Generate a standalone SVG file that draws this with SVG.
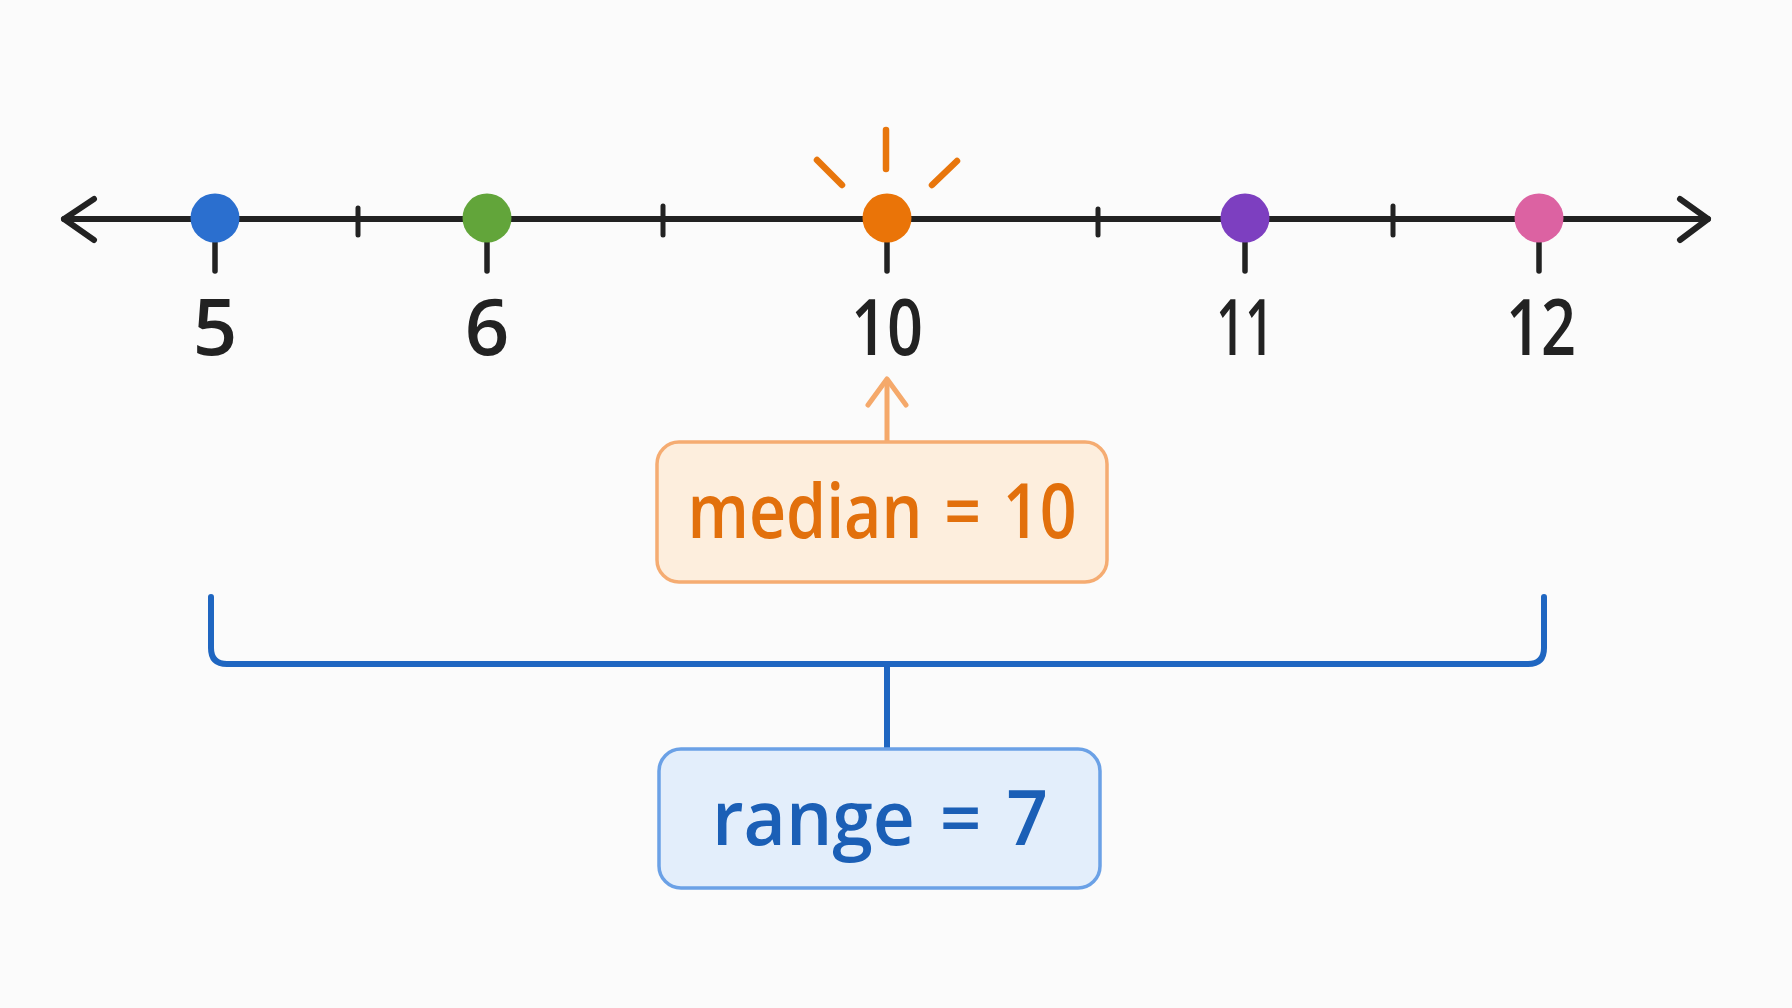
<svg xmlns="http://www.w3.org/2000/svg" width="1792" height="1008" viewBox="0 0 1792 1008">
  <style>
    .axis { stroke: #222; stroke-width: 6; stroke-linecap: round; stroke-linejoin: round; fill: none; }
    .tick { stroke: #222; stroke-width: 5; stroke-linecap: round; }
    .stem { stroke: #222; stroke-width: 5.5; stroke-linecap: round; }
    .num { font-family: "Open Sans", "Noto Sans", sans-serif; font-weight: 600; font-size: 78px; fill: #222; text-anchor: middle; }
    .ray { stroke: #e8760c; stroke-width: 6.5; stroke-linecap: round; }
    .lbl { font-family: "Open Sans", "Noto Sans", sans-serif; font-weight: 600; font-size: 76px; text-anchor: middle; word-spacing: 6px; }
    .bracket { stroke: #1f66c1; stroke-width: 6; fill: none; stroke-linecap: round; stroke-linejoin: round; }
  </style>
  <rect width="1792" height="1008" fill="#fbfbfb"/>

  <g id="number-line">
    <line class="axis" x1="64" y1="219" x2="1708" y2="219"/>
    <polyline class="axis" points="94,199 64,219 94,240"/>
    <polyline class="axis" points="1680,199 1708,219 1680,240"/>
    <line class="tick" x1="358" y1="208" x2="358" y2="235"/>
    <line class="tick" x1="663" y1="206" x2="663" y2="235"/>
    <line class="tick" x1="1098" y1="209" x2="1098" y2="235"/>
    <line class="tick" x1="1393" y1="206" x2="1393" y2="235"/>
  </g>

  <g id="point-5">
    <line class="stem" x1="215" y1="220" x2="215" y2="271"/>
    <circle cx="215" cy="218" r="24.5" fill="#2b6fcf"/>
    <text class="num" x="215" y="355">5</text>
  </g>
  <g id="point-6">
    <line class="stem" x1="487" y1="220" x2="487" y2="271"/>
    <circle cx="487" cy="218" r="24.5" fill="#62a53a"/>
    <text class="num" x="487" y="355">6</text>
  </g>
  <g id="point-10">
    <line class="stem" x1="887" y1="220" x2="887" y2="271"/>
    <circle cx="887" cy="218" r="24.5" fill="#ea7408"/>
    <line class="ray" x1="886" y1="130" x2="886" y2="169"/>
    <line class="ray" x1="817" y1="160" x2="842" y2="185"/>
    <line class="ray" x1="957" y1="161" x2="932" y2="185"/>
    <text class="num" x="887" y="355" textLength="72" lengthAdjust="spacingAndGlyphs">10</text>
  </g>
  <g id="point-11">
    <line class="stem" x1="1245" y1="220" x2="1245" y2="271"/>
    <circle cx="1245" cy="218" r="24.5" fill="#7d3fc0"/>
    <text class="num" x="1245" y="355" textLength="58" lengthAdjust="spacingAndGlyphs">11</text>
  </g>
  <g id="point-12">
    <line class="stem" x1="1539" y1="220" x2="1539" y2="271"/>
    <circle cx="1539" cy="218" r="24.5" fill="#dc62a2"/>
    <text class="num" x="1541" y="355" textLength="70" lengthAdjust="spacingAndGlyphs">12</text>
  </g>

  <g id="connectors">
    <line x1="887" y1="442" x2="887" y2="381" stroke="#f5a96b" stroke-width="5" stroke-linecap="round"/>
    <polyline points="868,405 887,379 906,405" fill="none" stroke="#f5a96b" stroke-width="5" stroke-linecap="round" stroke-linejoin="round"/>
    <path class="bracket" d="M211,597 V648 Q211,664 227,664 H1528 Q1544,664 1544,648 V597"/>
    <line x1="887" y1="664" x2="887" y2="749" stroke="#1f66c1" stroke-width="6"/>
  </g>

  <g id="median-box">
    <rect x="657" y="442" width="450" height="140" rx="22" fill="#fdeedd" stroke="#f5ac72" stroke-width="3.5"/>
    <text class="lbl" x="882" y="538" fill="#e2700c" textLength="389" lengthAdjust="spacingAndGlyphs">median = 10</text>
  </g>

  <g id="range-box">
    <rect x="659" y="749" width="441" height="139" rx="22" fill="#e3eefb" stroke="#6ba1e6" stroke-width="3.5"/>
    <text class="lbl" x="880" y="845" fill="#1b5fb6" textLength="336" lengthAdjust="spacingAndGlyphs">range = 7</text>
  </g>
</svg>
